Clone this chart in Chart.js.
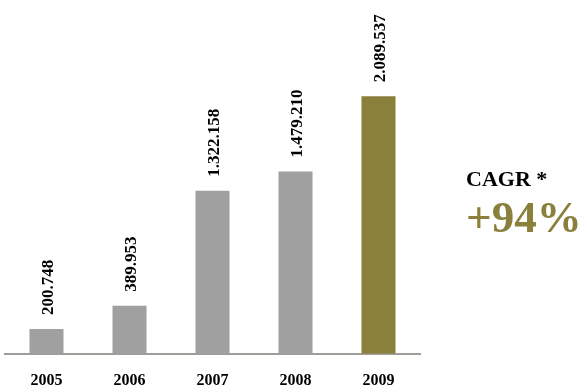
<!DOCTYPE html>
<html lang="pt">
<head>
  <meta charset="UTF-8">
  <title>CAGR</title>
  <script src="https://cdn.jsdelivr.net/npm/chart.js@4"></script>
  <style>
    body { margin: 0; background: #fff; }
    .wrap { position: relative; width: 585px; height: 390px; }
    .cagr { position: absolute; left: 466px; top: 166px; font-family: "Liberation Serif", "Times New Roman", serif; font-weight: bold; }
    .cagr .t { font-size: 22px; color: #000; line-height: 26px; }
    .cagr .v { font-size: 45px; color: #8a7f3b; line-height: 45px; margin-top: 3px; }
  </style>
</head>
<body>
  <div class="wrap">
    <canvas id="chart" width="585" height="390"></canvas>
    <div class="cagr">
      <div class="t">CAGR *</div>
      <div class="v">+94%</div>
    </div>
  </div>
  <script>
    // dados
    const years = ['2005', '2006', '2007', '2008', '2009'];
    const values = [200748, 389953, 1322158, 1479210, 2089537];
    const barColors = ['#a0a0a0', '#a0a0a0', '#a0a0a0', '#a0a0a0', '#8a7f3b'];

    // 1234567 -> "1.234.567"
    function fmt(n) {
      return String(n).replace(/\B(?=(\d{3})+(?!\d))/g, '.');
    }

    // rótulos verticais acima das barras
    const valueLabels = {
      id: 'valueLabels',
      afterDatasetsDraw(chart) {
        const ctx = chart.ctx;
        const meta = chart.getDatasetMeta(0);
        ctx.save();
        ctx.font = 'bold 17px "Liberation Serif", "Times New Roman", serif';
        ctx.fillStyle = '#000';
        ctx.textAlign = 'left';
        ctx.textBaseline = 'middle';
        meta.data.forEach((bar, i) => {
          ctx.save();
          ctx.translate(bar.x + 2, bar.y - 14);
          ctx.rotate(-Math.PI / 2);
          ctx.fillText(fmt(values[i]), 0, 0);
          ctx.restore();
        });
        ctx.restore();
      }
    };

    new Chart(document.getElementById('chart'), {
      type: 'bar',
      data: {
        labels: years,
        datasets: [{
          data: values,
          backgroundColor: barColors,
          barPercentage: 0.41,
          categoryPercentage: 1
        }]
      },
      options: {
        responsive: false,
        animation: false,
        layout: { padding: { left: 5, right: 165, top: 0, bottom: -17 } },
        plugins: { legend: { display: false }, tooltip: { enabled: false } },
        scales: {
          x: {
            grid: { display: false, drawTicks: false },
            border: { display: true, color: '#a09d99', width: 2 },
            ticks: {
              padding: 17,
              color: '#000',
              font: { family: '"Liberation Serif", "Times New Roman", serif', size: 16, weight: 'bold' }
            }
          },
          y: {
            display: false,
            min: 0,
            max: 2870000
          }
        }
      },
      plugins: [valueLabels]
    });
  </script>
</body>
</html>
